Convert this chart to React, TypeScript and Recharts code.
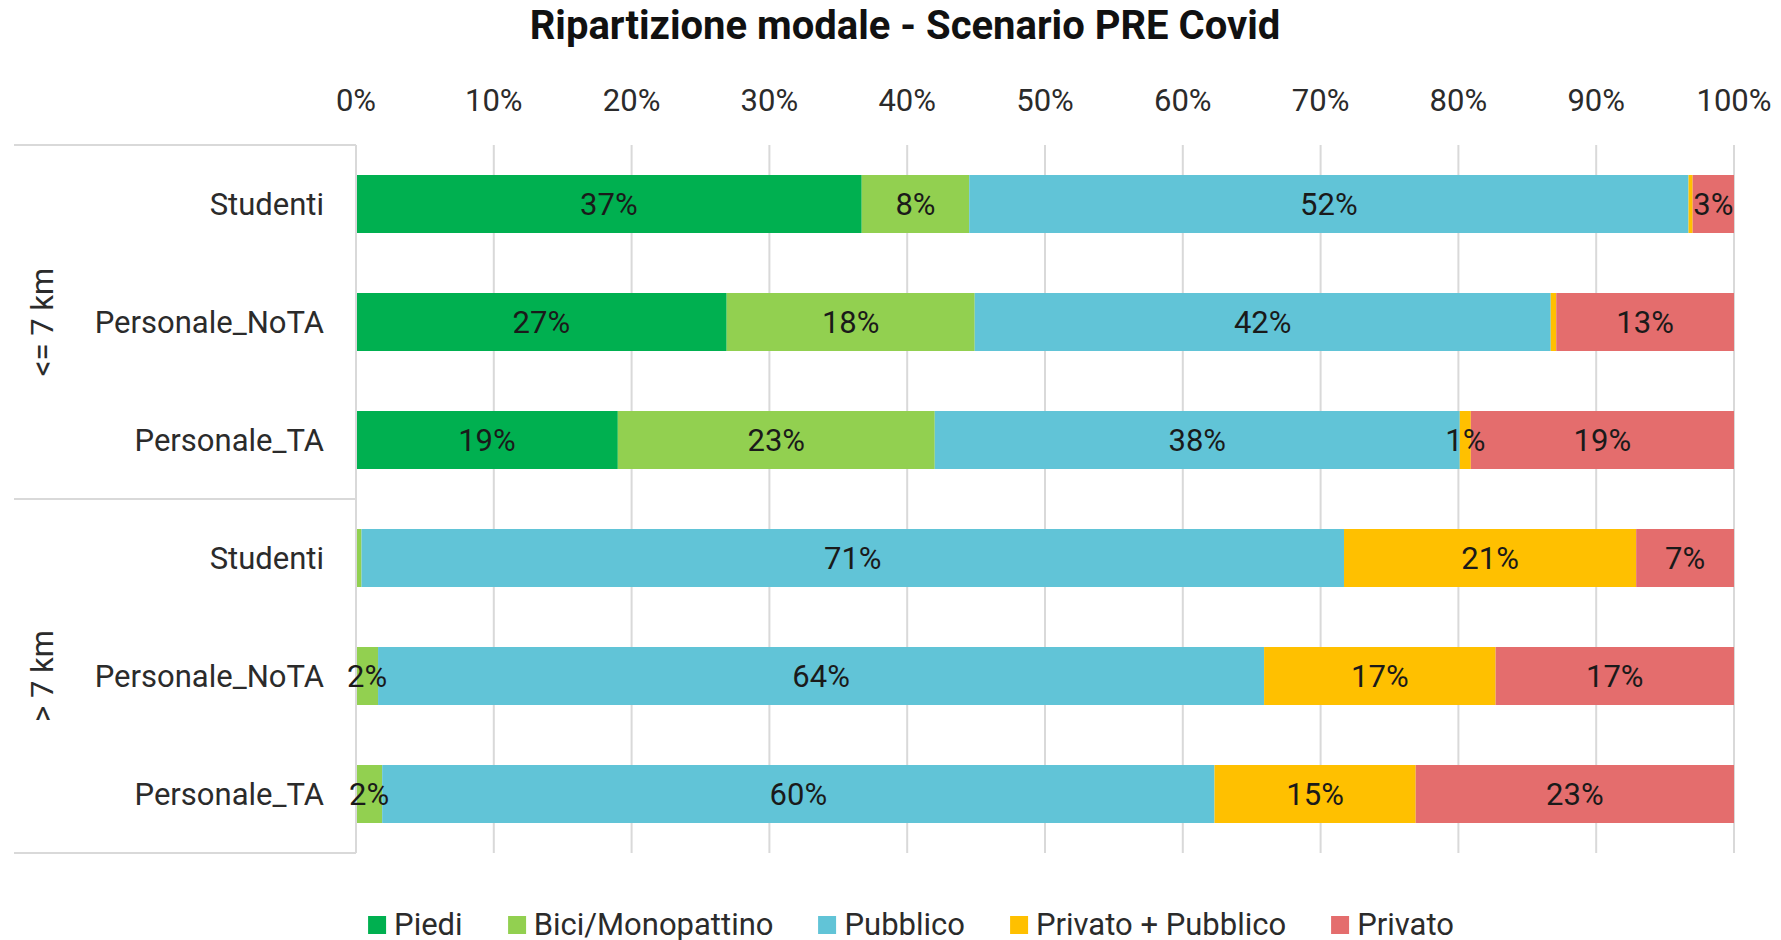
import { BarChart, Bar, XAxis, YAxis, CartesianGrid, LabelList } from 'recharts';

// Ripartizione modale - Scenario PRE Covid (share of trips per mode, %)
const categories = ['Studenti', 'Personale_NoTA', 'Personale_TA', 'Studenti', 'Personale_NoTA', 'Personale_TA'];
const groups = ['<= 7 km', '> 7 km'];
const groupOf = [0, 0, 0, 1, 1, 1];

const piedi = [36.7, 26.9, 19.0, 0, 0, 0];
const bici = [7.8, 18.0, 23.0, 0.4, 1.6, 1.9];
const pubblico = [52.2, 41.8, 38.1, 71.3, 64.3, 60.4];
const privatoPubblico = [0.3, 0.4, 0.8, 21.2, 16.8, 14.6];
const privato = [3.0, 12.9, 19.1, 7.1, 17.3, 23.1];

const xTicks = [0, 10, 20, 30, 40, 50, 60, 70, 80, 90, 100];

const series = [
  { key: 'piedi', label: 'Piedi', color: '#00b050', values: piedi },
  { key: 'bici', label: 'Bici/Monopattino', color: '#92d050', values: bici },
  { key: 'pubblico', label: 'Pubblico', color: '#61c4d7', values: pubblico },
  { key: 'privatoPubblico', label: 'Privato + Pubblico', color: '#ffc000', values: privatoPubblico },
  { key: 'privato', label: 'Privato', color: '#e46d6d', values: privato },
];

const data = categories.map((name, i) => {
  const row: Record<string, string | number> = { id: `c${i}`, name };
  series.forEach((s) => {
    row[s.key] = s.values[i];
  });
  return row;
});

const FONT = 'Roboto, "Open Sans", sans-serif';
const W = 1781;
const H = 940;
const MARGIN = { top: 55, right: 47, bottom: 87, left: 0 };
const X_AXIS_H = 90;
const Y_AXIS_W = 356;
const PLOT_H = H - MARGIN.top - X_AXIS_H - MARGIN.bottom;
const BAND = PLOT_H / categories.length;
const LINE = '#d9d9d9';

function CategoryTick(props: any) {
  const { x, y, index } = props;
  const g = groupOf[index];
  const first = index === 0 || groupOf[index - 1] !== g;
  const last = index === categories.length - 1;
  const size = groupOf.filter((v) => v === g).length;
  const groupCenter = y - BAND / 2 + (size * BAND) / 2;
  return (
    <g>
      <text
        x={x - 32}
        y={y}
        textAnchor="end"
        dominantBaseline="central"
        fontFamily={FONT}
        fontSize={31}
        fill="#2b2b2b"
      >
        {categories[index]}
      </text>
      {first && <line x1={14} x2={x} y1={y - BAND / 2} y2={y - BAND / 2} stroke={LINE} strokeWidth={2} />}
      {last && <line x1={14} x2={x} y1={y + BAND / 2} y2={y + BAND / 2} stroke={LINE} strokeWidth={2} />}
      {first && (
        <text
          x={42}
          y={groupCenter}
          transform={`rotate(-90 42 ${groupCenter})`}
          textAnchor="middle"
          dominantBaseline="central"
          fontFamily={FONT}
          fontSize={31}
          fill="#2b2b2b"
        >
          {groups[g]}
        </text>
      )}
    </g>
  );
}

const pctLabel = (v: any) => (Math.round(Number(v)) >= 1 ? `${Math.round(Number(v))}%` : '');

export default function App() {
  return (
    <div style={{ position: 'absolute', left: 0, top: 0, width: W, height: H, background: '#fff' }}>
      <div
        style={{
          position: 'absolute',
          left: 905,
          top: 0,
          transform: 'translateX(-50%)',
          whiteSpace: 'nowrap',
          fontFamily: FONT,
          fontWeight: 700,
          fontSize: 40,
          lineHeight: '52px',
          color: '#111',
        }}
      >
        Ripartizione modale - Scenario PRE Covid
      </div>
      <BarChart width={W} height={H} data={data} layout="vertical" margin={MARGIN}>
        <CartesianGrid horizontal={false} stroke={LINE} strokeWidth={2} />
        <XAxis
          type="number"
          orientation="top"
          domain={[0, 100]}
          ticks={xTicks}
          height={X_AXIS_H}
          axisLine={false}
          tickLine={false}
          tickSize={0}
          tickMargin={34}
          tickFormatter={(v) => `${v}%`}
          tick={{ fontFamily: FONT, fontSize: 31, fill: '#2b2b2b' }}
        />
        <YAxis
          type="category"
          dataKey="id"
          width={Y_AXIS_W}
          interval={0}
          axisLine={{ stroke: LINE, strokeWidth: 2 }}
          tickLine={false}
          tickSize={0}
          tickMargin={0}
          tick={<CategoryTick />}
        />
        {series.map((s) => (
          <Bar key={s.key} dataKey={s.key} stackId="a" fill={s.color} barSize={58} isAnimationActive={false}>
            <LabelList
              dataKey={s.key}
              position="center"
              formatter={pctLabel}
              style={{ fontFamily: FONT, fontSize: 31, fill: '#1a1a1a' }}
            />
          </Bar>
        ))}
      </BarChart>
      <div
        style={{
          position: 'absolute',
          left: 911,
          top: 905,
          transform: 'translateX(-50%)',
          display: 'flex',
          gap: 45,
          whiteSpace: 'nowrap',
          fontFamily: FONT,
          fontSize: 31,
          color: '#2b2b2b',
          lineHeight: '40px',
        }}
      >
        {series.map((s) => (
          <div key={s.key} style={{ display: 'flex', alignItems: 'center', gap: 8 }}>
            <span style={{ width: 18, height: 18, background: s.color, display: 'inline-block' }} />
            <span>{s.label}</span>
          </div>
        ))}
      </div>
    </div>
  );
}
